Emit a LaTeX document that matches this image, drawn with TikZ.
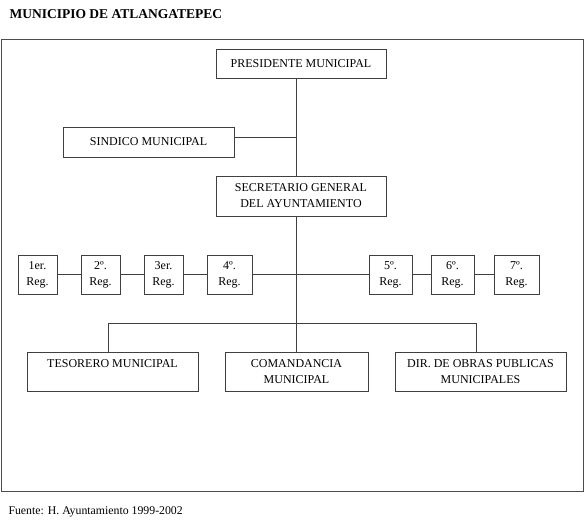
\documentclass[tikz,border=0pt]{standalone}
\usepackage{fontspec}
\setmainfont{Liberation Serif}
\begin{document}
\begin{tikzpicture}[x=1pt,y=-1pt,
  box/.style={draw=black!75,line width=0.9pt,inner sep=0pt,align=center,
    font=\fontsize{12}{16}\selectfont},
  conn/.style={draw=black!75,line width=0.9pt}]
\useasboundingbox (0,0) rectangle (585,530);
\node[anchor=west,font=\bfseries\fontsize{13.5}{16}\selectfont] (title) at (6,14) {MUNICIPIO DE ATLANGATEPEC};
\node[draw=black!70,line width=1pt,minimum width=582pt,minimum height=452pt,inner sep=0pt] (frame) at (292,265) {};
\coordinate (sp) at (296,0);
\node[box,minimum width=170pt,minimum height=29pt] (pres) at (301,63.5) {PRESIDENTE MUNICIPAL};
\node[box,minimum width=171pt,minimum height=30pt] (sind) at (148.5,142) {SINDICO MUNICIPAL};
\coordinate (sj) at (0,137);
\node[box,minimum width=170pt,minimum height=40pt] (sec) at (301,196) {SECRETARIO GENERAL\\DEL AYUNTAMIENTO};
\node[box,minimum width=39pt,minimum height=39pt] (r1) at (37.5,274.5) {1er.\\Reg.};
\node[box,minimum width=39pt,minimum height=39pt] (r2) at (100.5,274.5) {2º.\\Reg.};
\node[box,minimum width=39pt,minimum height=39pt] (r3) at (163.5,274.5) {3er.\\Reg.};
\node[box,minimum width=45pt,minimum height=39pt] (r4) at (229.5,274.5) {4º.\\Reg.};
\node[box,minimum width=43pt,minimum height=39pt] (r5) at (390.5,274.5) {5º.\\Reg.};
\node[box,minimum width=43pt,minimum height=39pt] (r6) at (452.5,274.5) {6º.\\Reg.};
\node[box,minimum width=45pt,minimum height=39pt] (r7) at (516.5,274.5) {7º.\\Reg.};
\node[box,minimum width=171pt,minimum height=39pt] (tes) at (112.5,371.5) {TESORERO MUNICIPAL\\\phantom{MUNICIPAL}};
\node[box,minimum width=143pt,minimum height=39pt] (com) at (296.5,371.5) {COMANDANCIA\\MUNICIPAL};
\node[box,minimum width=171pt,minimum height=39pt] (dir) at (480.5,371.5) {DIR. DE OBRAS PUBLICAS\\MUNICIPALES};
\coordinate (tl) at (108,323);
\coordinate (tr) at (476,323);
\node[anchor=west,font=\fontsize{11.8}{14}\selectfont] (src) at (5,512) {Fuente: H. Ayuntamiento 1999-2002};
% connectors
\draw[conn] (pres.south -| sp) -- (sec.north -| sp);
\draw[conn] (sind.east |- sj) -- (sp |- sj);
\draw[conn] (sec.south -| sp) -- (com.north -| sp);
\draw[conn] (r1) -- (r2);
\draw[conn] (r2) -- (r3);
\draw[conn] (r3) -- (r4);
\draw[conn] (r4) -- (r5);
\draw[conn] (r5) -- (r6);
\draw[conn] (r6) -- (r7);
\draw[conn] (tes.north -| tl) -- (tl) -- (tr) -- (dir.north -| tr);
\end{tikzpicture}
\end{document}
